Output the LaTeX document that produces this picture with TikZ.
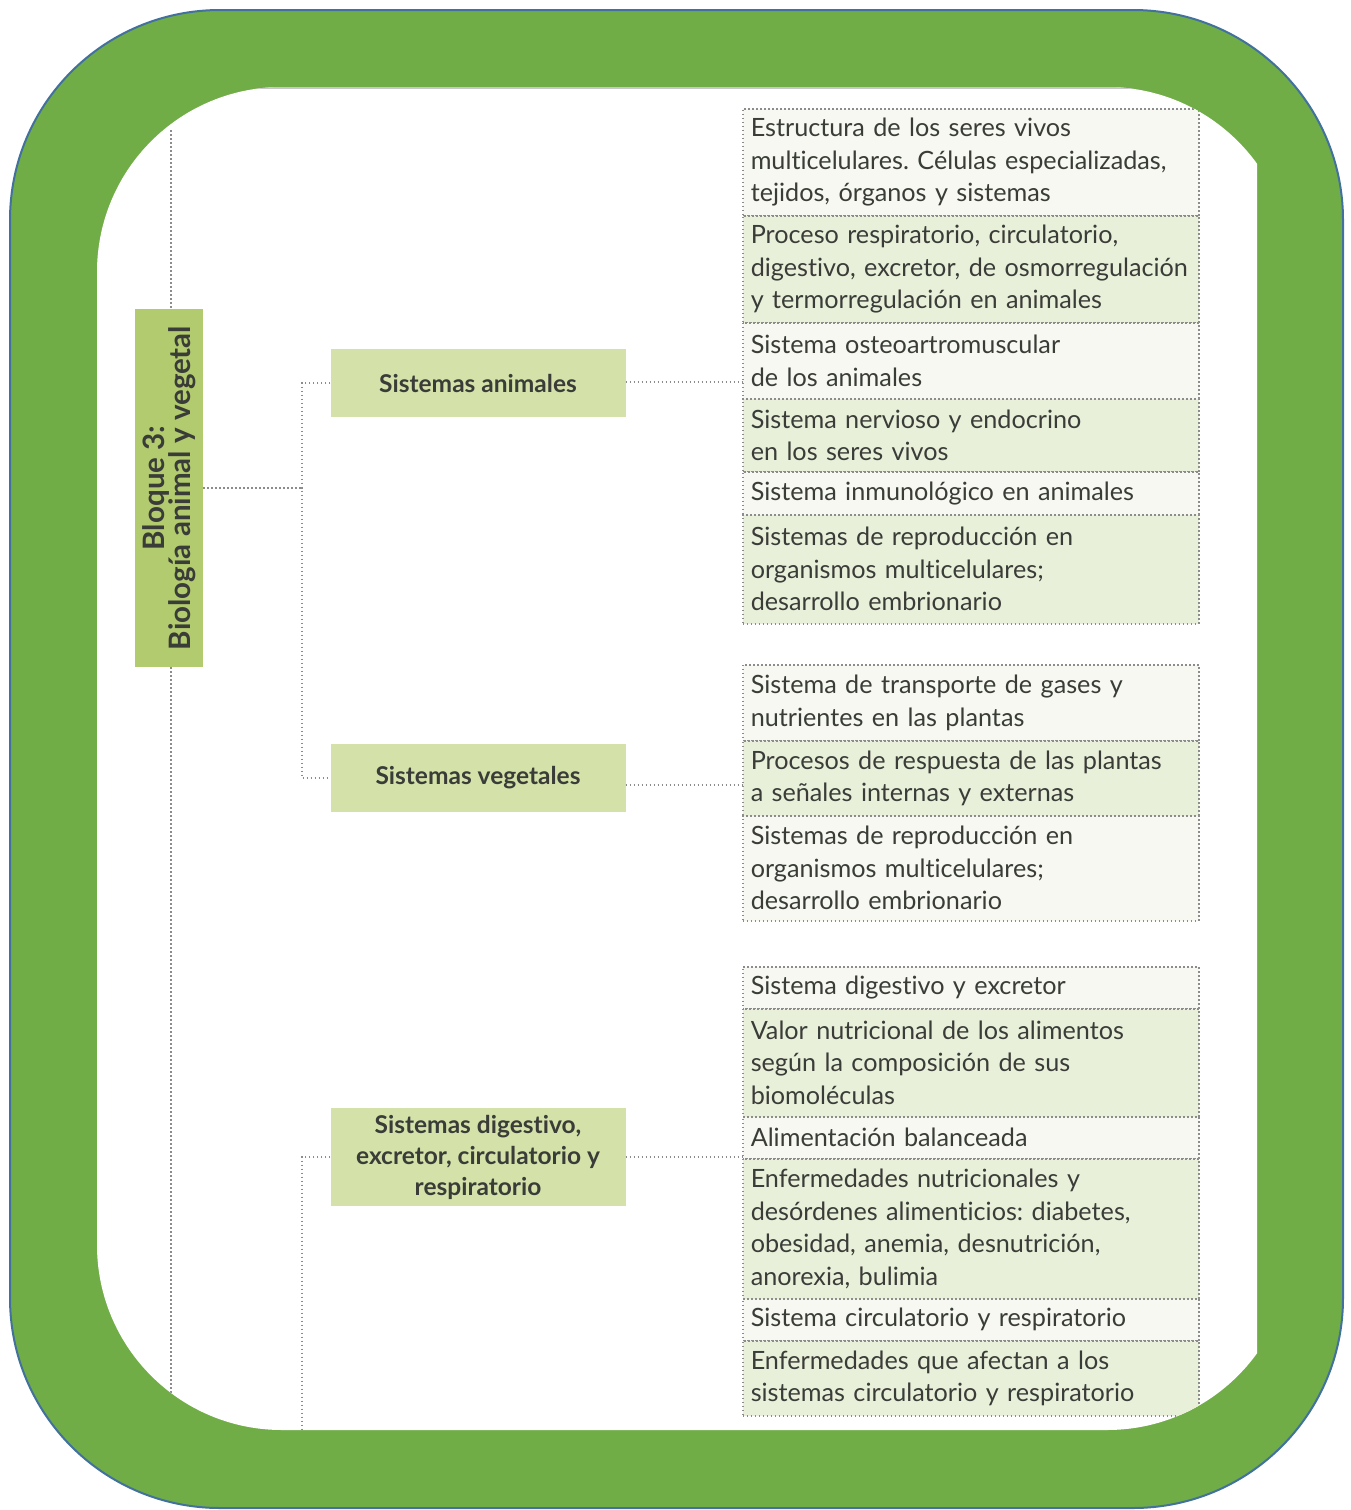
\documentclass[tikz,border=0pt]{standalone}
\usepackage{fontspec}
\setmainfont{Lato}[Ligatures=NoCommon]
\frenchspacing
\definecolor{framegreen}{HTML}{70AD47}
\definecolor{frameblue}{HTML}{41719C}
\definecolor{blockgreen}{HTML}{B2CB6E}
\definecolor{boxgreen}{HTML}{D4E2AA}
\definecolor{rowgreen}{HTML}{E9F0DA}
\definecolor{rowpale}{HTML}{F6F8F1}
\definecolor{inkgray}{HTML}{3A3C38}
\definecolor{dotgray}{HTML}{8C8C8C}
\begin{document}
\begin{tikzpicture}[x=1pt,y=-1pt,
  dotline/.style={draw=dotgray, line width=1.5pt, dash pattern=on 1.5pt off 2.5pt},
  topicbox/.style={fill=boxgreen, text=inkgray, font=\fontsize{24.5}{31}\selectfont\bfseries,
    minimum width=295pt, align=center, inner sep=0pt},
  rowbox/.style={dotline, text=inkgray, font=\fontsize{25.2}{32.5}\selectfont,
    text width=440pt, inner xsep=8pt, inner ysep=0pt, align=left, anchor=north west},
  pale/.style={rowbox, fill=rowpale},
  leafy/.style={rowbox, fill=rowgreen}]

% page and bounding box
\fill[white] (0,0) rectangle (1351,1510);
\useasboundingbox (0,0) rectangle (1351,1510);

% green rounded frame
\filldraw[fill=framegreen, draw=frameblue, line width=2pt, rounded corners=210pt]
  (10,10) rectangle (1343,1508);

\begin{scope}
  \clip[rounded corners=185pt] (97,87) rectangle (1292,1430);
  \clip (0,0) rectangle (1257,1510);
  \fill[white] (0,0) rectangle (1351,1510);
  \draw[black!22, line width=1.5pt] (0,88) -- (1351,88);

  % block label
  \node[fill=blockgreen, text=inkgray, minimum width=68pt, minimum height=358pt, inner sep=0pt,
        font=\fontsize{29.5}{27}\selectfont\bfseries] (blk) at (169,488)
    {\hspace*{3pt}\rotatebox{90}{\begin{tabular}{@{}c@{}}Bloque 3:\\[-4pt]Biología animal y vegetal\end{tabular}}};

  % topic boxes
  \node[topicbox, minimum height=68pt] (sa) at (478,383) {Sistemas animales};
  \node[topicbox, minimum height=68pt] (sv) at (478,778) {Sistemas vegetales};
  \node[topicbox, minimum height=98pt] (sd) at (478,1157)
    {Sistemas digestivo,\\excretor, circulatorio y\\respiratorio};

  % contents: animal systems
  \node[pale,  minimum height=107pt] (a1) at (742,108) {Estructura de los seres vivos\\multicelulares. Células especializadas,\\tejidos, órganos y sistemas};
  \node[leafy, minimum height=107pt] (a2) at (742,215) {Proceso respiratorio, circulatorio,\\digestivo, excretor, de osmorregulación\\y termorregulación en animales};
  \node[pale,  minimum height=76pt]  (a3) at (742,322) {Sistema osteoartromuscular\\de los animales};
  \node[leafy, minimum height=73pt]  (a4) at (742,398) {Sistema nervioso y endocrino\\en los seres vivos};
  \node[pale,  minimum height=43pt]  (a5) at (742,471) {Sistema inmunológico en animales};
  \node[leafy, minimum height=109pt] (a6) at (742,514) {Sistemas de reproducción en\\organismos multicelulares;\\desarrollo embrionario};

  % contents: plant systems
  \node[pale,  minimum height=76pt]  (v1) at (742,664) {Sistema de transporte de gases y\\nutrientes en las plantas};
  \node[leafy, minimum height=75pt]  (v2) at (742,740) {Procesos de respuesta de las plantas\\a señales internas y externas};
  \node[pale,  minimum height=105pt] (v3) at (742,815) {Sistemas de reproducción en\\organismos multicelulares;\\desarrollo embrionario};

  % contents: digestive, excretory, circulatory and respiratory systems
  \node[pale,  minimum height=42pt]  (d1) at (742,966)  {Sistema digestivo y excretor};
  \node[leafy, minimum height=108pt] (d2) at (742,1008) {Valor nutricional de los alimentos\\según la composición de sus\\biomoléculas};
  \node[pale,  minimum height=42pt]  (d3) at (742,1116) {Alimentación balanceada};
  \node[leafy, minimum height=140pt] (d4) at (742,1158) {Enfermedades nutricionales y\\desórdenes alimenticios: diabetes,\\obesidad, anemia, desnutrición,\\anorexia, bulimia};
  \node[pale,  minimum height=42pt]  (d5) at (742,1298) {Sistema circulatorio y respiratorio};
  \node[leafy, minimum height=75pt]  (d6) at (742,1340) {Enfermedades que afectan a los\\sistemas circulatorio y respiratorio};

  % tree connectors
  \coordinate (trunktop) at (171,130);
  \coordinate (trunkend) at (171,1440);
  \coordinate (fork) at (302,488);
  \coordinate (forkend) at (302,1440);
  \draw[dotline] (trunktop) -- (trunktop |- blk.north);
  \draw[dotline] (trunktop |- blk.south) -- (trunkend);
  \draw[dotline] (blk.east) -- (fork);
  \draw[dotline] (sa.west) -| (fork) |- (sv.west);
  \draw[dotline] (sd.west) -| (forkend);

  % links to the contents
  \draw[dotline] ([yshift=1pt]sa.east) -- ([yshift=1pt]sa.east -| a3.west);
  \draw[dotline] ([yshift=-7pt]sv.east) -- ([yshift=-7pt]sv.east -| v2.west);
  \draw[dotline] (sd.east) -- (sd.east -| d3.west);
\end{scope}
\end{tikzpicture}
\end{document}
